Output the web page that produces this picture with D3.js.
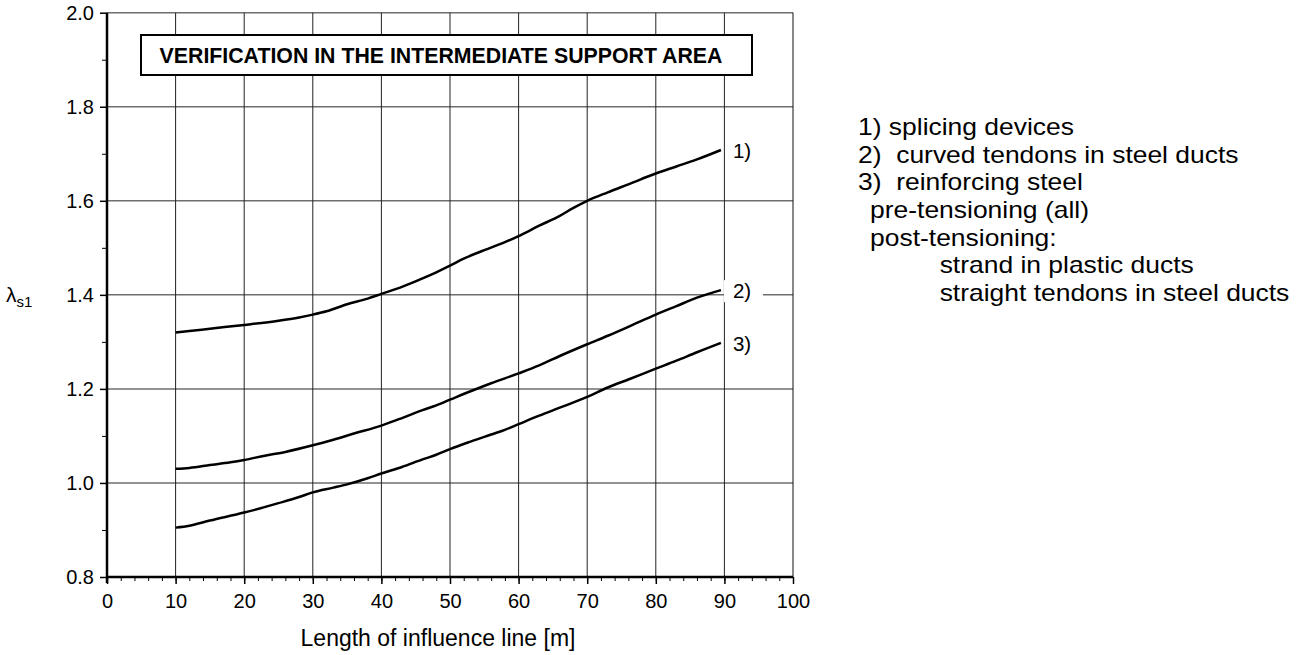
<!DOCTYPE html>
<html><head><meta charset="utf-8">
<script src="https://cdn.jsdelivr.net/npm/d3@7"></script>
<style>body{margin:0;background:#fff}svg{display:block}text{font-family:"Liberation Sans",Arial,sans-serif;fill:#000}</style>
</head><body><svg id="c" width="1301" height="655"></svg>
<script>
const lengths1 = [10,12,15,20,25,28,30,32,35,38,40,43,46,48,50,52,55,58,60,63,66,68,70,73,76,80,83,86,89.5];
const curve1 = [1.320,1.323,1.328,1.336,1.345,1.352,1.358,1.365,1.380,1.392,1.402,1.417,1.435,1.448,1.462,1.477,1.495,1.512,1.525,1.547,1.568,1.585,1.600,1.618,1.635,1.658,1.673,1.688,1.708];
const lengths2 = [10,12,15,18,20,23,26,30,33,36,40,43,46,48,50,53,56,60,63,66,70,73,76,80,83,86,89.5];
const curve2 = [1.030,1.032,1.038,1.044,1.049,1.058,1.066,1.080,1.092,1.105,1.122,1.138,1.155,1.165,1.177,1.195,1.212,1.233,1.250,1.270,1.295,1.313,1.332,1.358,1.376,1.394,1.410];
const lengths3 = [10,12,15,20,25,28,30,33,35,38,40,43,46,48,50,53,56,58,60,63,66,70,73,76,80,83,86,89.5];
const curve3 = [0.905,0.909,0.920,0.937,0.957,0.970,0.980,0.990,0.997,1.010,1.020,1.034,1.050,1.060,1.072,1.088,1.103,1.113,1.125,1.143,1.160,1.183,1.203,1.220,1.243,1.260,1.278,1.298];
const curveLabels = ["1)","2)","3)"];
const xTicks = [0,10,20,30,40,50,60,70,80,90,100];
const yTicks = [0.8,1.0,1.2,1.4,1.6,1.8,2.0];
const boxTitle = "VERIFICATION IN THE INTERMEDIATE SUPPORT AREA";
const xTitle = "Length of influence line [m]";
const legendLines = ["1) splicing devices","2)  curved tendons in steel ducts","3)  reinforcing steel","pre-tensioning (all)","post-tensioning:","strand in plastic ducts","straight tendons in steel ducts"];
const legendIndent = [0,0,0,1,1,2,2];

const svg = d3.select("#c");
const x = d3.scaleLinear().domain([0,100]).range([107,793]);
const y = d3.scaleLinear().domain([0.8,2.0]).range([577,12.7]);
const FS = 20;
const FF = "Liberation Sans, Arial, sans-serif";

// grid
const g = svg.append("g");
g.selectAll(".hg").data(yTicks.slice(1)).join("line")
  .attr("x1",x(0)).attr("x2",x(100)).attr("y1",d=>y(d)).attr("y2",d=>y(d))
  .attr("stroke","#6e6e6e").attr("stroke-width",1.5);
g.selectAll(".vg").data(xTicks.slice(1)).join("line")
  .attr("x1",d=>x(d)).attr("x2",d=>x(d)).attr("y1",y(0.8)).attr("y2",y(2.0))
  .attr("stroke",d=>d===100?"#111":"#222").attr("stroke-width",1);

// axes
const xAxisMinor = d3.axisBottom(x).tickValues(d3.range(0,101,2)).tickSize(4).tickFormat("");
svg.append("g").attr("transform",`translate(0,${y(0.8)})`).call(xAxisMinor)
  .call(s=>{s.select(".domain").remove();s.selectAll("line").attr("stroke","#000").attr("stroke-width",1);});
const xAxis = d3.axisBottom(x).tickValues(xTicks).tickSize(7).tickPadding(10).tickFormat(d3.format("d"));
svg.append("g").attr("transform",`translate(0,${y(0.8)})`).call(xAxis)
  .call(s=>{s.select(".domain").remove();s.selectAll("line").attr("stroke","#000").attr("stroke-width",1.5);
    s.selectAll("text").attr("font-size",FS).attr("fill","#000").style("font-family",FF);});
const yAxisMinor = d3.axisLeft(y).tickValues(d3.range(0.9,2.0,0.2)).tickSize(5).tickFormat("");
svg.append("g").attr("transform",`translate(${x(0)},0)`).call(yAxisMinor)
  .call(s=>{s.select(".domain").remove();s.selectAll("line").attr("stroke","#000").attr("stroke-width",1);});
const yAxis = d3.axisLeft(y).tickValues(yTicks).tickSize(7).tickPadding(6).tickFormat(d3.format(".1f"));
svg.append("g").attr("transform",`translate(${x(0)},0)`).call(yAxis)
  .call(s=>{s.select(".domain").remove();s.selectAll("line").attr("stroke","#000").attr("stroke-width",1.5);
    s.selectAll("text").attr("font-size",FS).attr("fill","#000").style("font-family",FF);});
svg.append("line").attr("x1",x(0)).attr("x2",x(0)).attr("y1",y(2.0)).attr("y2",y(0.8)+6).attr("stroke","#000").attr("stroke-width",2.5);
svg.append("line").attr("x1",x(0)-1).attr("x2",x(100)).attr("y1",y(0.8)).attr("y2",y(0.8)).attr("stroke","#000").attr("stroke-width",2.5);

// curves
const series = [[lengths1,curve1],[lengths2,curve2],[lengths3,curve3]];
const line = d3.line().x(d=>x(d[0])).y(d=>y(d[1])).curve(d3.curveMonotoneX);
series.forEach(([xs,ys])=>{
  svg.append("path").datum(xs.map((v,i)=>[v,ys[i]])).attr("d",line)
    .attr("fill","none").attr("stroke","#000").attr("stroke-width",2.5);
});
// curve labels
series.forEach(([xs,ys],i)=>{
  const lx = x(xs[xs.length-1])+12, ly = y(ys[ys.length-1])+1;
  if(i===1) svg.append("rect").attr("x",lx-9).attr("y",ly-11).attr("width",39).attr("height",22).attr("fill","#fff");
  svg.append("text").attr("x",lx).attr("y",ly).attr("dy","0.35em").attr("font-size",20.5).text(curveLabels[i]);
});

// box
svg.append("rect").attr("x",141).attr("y",35).attr("width",611).attr("height",40)
  .attr("fill","#fff").attr("stroke","#000").attr("stroke-width",2);
svg.append("text").attr("x",441).attr("y",63).attr("text-anchor","middle")
  .attr("font-size",21.3).attr("font-weight","bold").text(boxTitle);

// axis titles
svg.append("text").attr("x",438).attr("y",646).attr("text-anchor","middle").attr("font-size",23).text(xTitle);
const yl = svg.append("text").attr("x",6).attr("y",y(1.4)).attr("dy","0.35em").attr("font-size",21);
yl.append("tspan").text("λ");
yl.append("tspan").attr("font-size",15).attr("dy","0.3em").text("s1");

// legend
const lg = svg.append("g").attr("transform","translate(858,135) scale(1.15,1)");
lg.selectAll("text").data(legendLines).join("text")
  .attr("x",(d,i)=>[0,10.5,71][legendIndent[i]]).attr("y",(d,i)=>i*27.7)
  .attr("font-size",23).style("white-space","pre").text(d=>d);
</script></body></html>
